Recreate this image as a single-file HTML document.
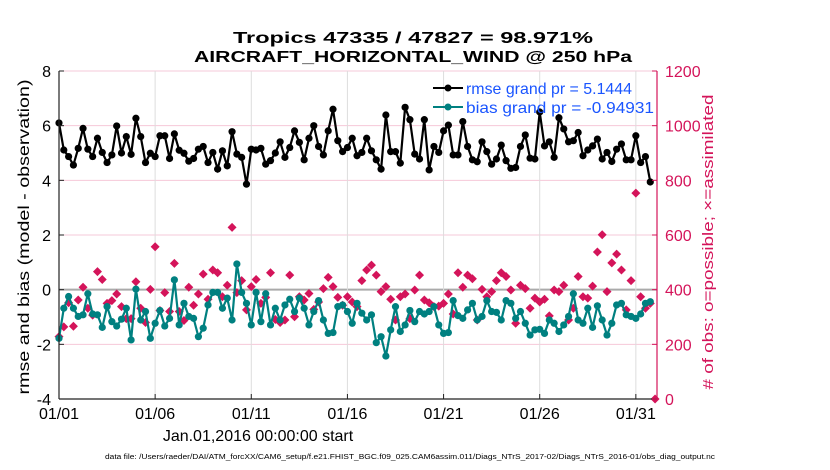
<!DOCTYPE html>
<html><head><meta charset="utf-8"><style>
body{margin:0;background:#fff;font-family:"Liberation Sans",Arial,sans-serif}
svg{display:block}
</style></head><body>
<svg id="chart" width="830" height="470" xmlns="http://www.w3.org/2000/svg">
<text x="413" y="43" text-anchor="middle" font-size="16" font-weight="bold" textLength="360" lengthAdjust="spacingAndGlyphs">Tropics 47335 / 47827 = 98.971%</text>
<text x="413" y="62" text-anchor="middle" font-size="16" font-weight="bold" textLength="438" lengthAdjust="spacingAndGlyphs">AIRCRAFT_HORIZONTAL_WIND @ 250 hPa</text>
<g id="grid"></g><g id="series"></g><g id="axes"></g>
<text x="258" y="441" text-anchor="middle" font-size="16">Jan.01,2016 00:00:00 start</text>
<text transform="translate(29,237) rotate(-90)" text-anchor="middle" font-size="16" textLength="315" lengthAdjust="spacingAndGlyphs">rmse and bias (model - observation)</text>
<text transform="translate(713,242) rotate(-90)" text-anchor="middle" font-size="15" fill="#d4145a" textLength="295" lengthAdjust="spacingAndGlyphs"># of obs: o=possible; ×=assimilated</text>
<text x="410" y="459" text-anchor="middle" font-size="7" textLength="610" lengthAdjust="spacingAndGlyphs">data file: /Users/raeder/DAI/ATM_forcXX/CAM6_setup/f.e21.FHIST_BGC.f09_025.CAM6assim.011/Diags_NTrS_2017-02/Diags_NTrS_2016-01/obs_diag_output.nc</text>
<g>
<line x1="433" y1="88" x2="463" y2="88" stroke="#000" stroke-width="2"/><circle cx="448" cy="88" r="3.5" fill="#000"/>
<text x="466" y="94" font-size="16" fill="#1a55ff" textLength="166" lengthAdjust="spacingAndGlyphs">rmse grand pr = 5.1444</text>
<line x1="433" y1="107" x2="463" y2="107" stroke="#008080" stroke-width="2"/><circle cx="448" cy="107" r="3.5" fill="#008080"/>
<text x="466" y="113" font-size="16" fill="#1a55ff" textLength="188" lengthAdjust="spacingAndGlyphs">bias grand pr = -0.94931</text>
</g>
</svg>
<script>
const rmse=[6.1,5.11,4.87,4.56,5.17,5.9,5.14,4.87,5.54,5.02,4.65,4.93,5.99,5.0,5.6,4.95,6.27,5.6,4.65,4.99,4.87,5.63,5.63,4.8,5.7,5.1,4.99,4.7,4.8,5.14,5.24,4.65,5.02,
4.41,5.08,4.53,5.78,4.96,4.84,3.86,5.14,5.11,5.17,4.59,4.72,5.0,5.41,4.84,5.2,5.81,5.39,4.75,5.54,6.0,5.24,4.93,5.81,6.6,5.45,5.05,5.2,5.54,4.9,5.02,5.54,
5.08,4.75,4.41,6.39,5.05,5.05,4.63,6.67,6.22,4.96,4.78,6.22,4.38,5.24,5.02,5.81,6.02,4.93,4.93,6.15,5.24,4.75,4.68,5.41,5.05,4.59,4.78,5.29,4.72,4.44,4.47,5.24,
5.66,4.81,4.78,6.5,5.26,5.41,4.84,6.29,5.88,5.41,5.45,5.75,4.9,5.11,5.26,5.51,4.78,5.02,4.69,5.14,5.33,4.75,4.75,5.63,4.65,4.87,3.94];
const bias=[-1.78,-0.68,-0.25,-0.68,-0.98,-0.92,-0.15,-0.89,-0.92,-1.38,-0.62,-1.17,-1.33,-1.08,-0.68,-1.84,0.02,-1.11,-0.8,-1.78,-1.23,-0.76,-1.33,-1.05,0.36,-1.29,-0.5,-0.98,-1.05,-1.72,-1.41,-0.56,-0.1,
-0.1,-0.68,-0.31,-1.11,0.94,-0.1,-0.5,-1.29,-0.1,-1.17,-0.15,-1.29,-0.68,-1.11,-0.56,-0.35,-0.8,-0.31,-0.68,-1.29,-0.8,-0.4,-1.11,-1.6,-1.57,-0.62,-0.56,-0.8,-1.23,-0.5,-0.86,-1.11,
-0.92,-1.94,-1.72,-2.43,-1.47,-0.62,-1.53,-1.29,-0.76,-1.17,-0.8,-0.89,-0.8,-0.62,-1.29,-1.6,-1.57,-0.4,-0.95,-1.05,-0.74,-0.5,-1.11,-0.98,-0.4,-0.8,-0.83,-1.11,-0.4,-0.5,-1.05,-0.8,
-1.23,-1.66,-1.47,-1.45,-1.6,-1.11,-1.23,-1.53,-1.29,-0.98,-0.15,-1.11,-1.23,-0.68,-1.38,-0.59,-1.11,-1.66,-1.23,-0.56,-0.5,-0.92,-0.98,-1.05,-0.89,-0.5,-0.44];
const nobs=[228,264,352,266,362,409,332,307,466,437,350,360,384,338,294,294,429,332,280,401,557,324,389,320,496,320,287,409,343,384,457,365,472,
462,374,416,628,389,433,326,411,437,350,372,462,291,280,289,453,301,374,362,386,328,355,404,445,411,372,343,374,355,338,433,472,
490,453,393,411,365,289,374,384,294,399,453,362,352,338,340,350,384,311,462,409,453,440,289,401,374,393,433,462,448,399,277,416,
404,332,369,355,365,304,399,393,416,289,332,448,374,369,413,538,601,393,498,530,472,326,433,753,374,332,350,0];
const yTicks=[-4,-2,0,2,4,6,8];
const rTicks=[0,200,400,600,800,1000,1200];
const xTickDays=[0,5,10,15,20,25,30];
const xTickLabels=["01/01","01/06","01/11","01/16","01/21","01/26","01/31"];

const X0=59,X1=657,Y0=399,Y1=71,DMAX=31.1;
const sx=d=>X0+(X1-X0)*d/DMAX;
const sy=v=>Y0-(Y0-Y1)*(v+4)/12;
const sr=c=>Y0-(Y0-Y1)*c/1200;
const NS="http://www.w3.org/2000/svg";
function mk(parent,tag,attrs){const e=document.createElementNS(NS,tag);for(const k in attrs)e.setAttribute(k,attrs[k]);parent.appendChild(e);return e;}
const grid=document.getElementById('grid'),ser=document.getElementById('series'),axes=document.getElementById('axes');
yTicks.forEach(v=>{const l=mk(grid,'line',{x1:X0,x2:X1,y1:sy(v),y2:sy(v),stroke:v===0?'#aaa':'#f6c8d8','stroke-width':v===0?2:1});

});
xTickDays.forEach(d=>{if(d===0)return;const l=mk(grid,'line',{x1:sx(d),x2:sx(d),y1:Y1,y2:Y0,stroke:'#ddd','stroke-width':1});

});
let a=mk(axes,'line',{x1:X0,x2:X0,y1:Y1,y2:Y0,stroke:'#222','stroke-width':1.2});


a=mk(axes,'line',{x1:X1,x2:X1,y1:Y1,y2:Y0,stroke:'#d4145a','stroke-width':1.2});


a=mk(axes,'line',{x1:X0,x2:X1,y1:Y0,y2:Y0,stroke:'#222','stroke-width':1.2});


yTicks.forEach(v=>{mk(axes,'line',{x1:X0,x2:X0+5,y1:sy(v),y2:sy(v),stroke:'#222'});
const t=mk(axes,'text',{x:X0-8,y:sy(v)+6,'text-anchor':'end','font-size':16});t.textContent=v;

});
rTicks.forEach(c=>{mk(axes,'line',{x1:X1-5,x2:X1,y1:sr(c),y2:sr(c),stroke:'#d4145a'});
const t=mk(axes,'text',{x:X1+8,y:sr(c)+6,'font-size':16,fill:'#d4145a'});t.textContent=c;

});
xTickDays.forEach((d,i)=>{mk(axes,'line',{x1:sx(d),x2:sx(d),y1:Y0,y2:Y0-5,stroke:'#222'});
const t=mk(axes,'text',{x:sx(d),y:Y0+20,'text-anchor':'middle','font-size':16});t.textContent=xTickLabels[i];

});
function line(vals,scale,color,name){
const pts=vals.map((v,i)=>sx(i*0.25).toFixed(1)+','+scale(v).toFixed(1)).join(' ');
const p=mk(ser,'polyline',{points:pts,fill:'none',stroke:color,'stroke-width':2.2});


vals.forEach((v,i)=>{const c=mk(ser,'circle',{cx:sx(i*0.25),cy:scale(v),r:3.6,fill:color});

});}
nobs.forEach((c,i)=>{const x=sx(i*0.25),y=sr(c);
const g=mk(ser,'path',{d:`M${x-4.5},${y}L${x},${y-4.5}L${x+4.5},${y}L${x},${y+4.5}Z`,fill:'#d4145a'});

});
line(bias,sy,'#008080','bias');
line(rmse,sy,'#000','rmse');
</script>
</body></html>
